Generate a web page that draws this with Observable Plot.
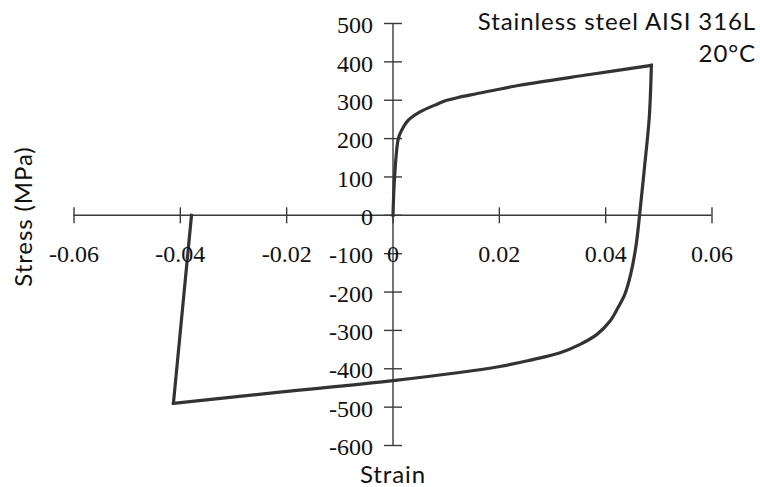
<!DOCTYPE html>
<html>
<head>
<meta charset="utf-8">
<script src="https://cdn.jsdelivr.net/npm/d3@7"></script>
<script src="https://cdn.jsdelivr.net/npm/@observablehq/plot@0.6"></script>
<style>
  html, body { margin: 0; padding: 0; background: #fff; }
  #chart { width: 760px; height: 487px; }
</style>
</head>
<body>
<div id="chart"></div>
<script>
// Hysteresis loop (strain, stress in MPa)
const strain = [0, 0.0003, 0.001, 0.0016, 0.0028, 0.005, 0.0085, 0.0097, 0.0125, 0.0157, 0.0238, 0.037, 0.0486,
                0.0482, 0.0473, 0.0464, 0.0457, 0.0447, 0.0436, 0.0423, 0.0408, 0.0383, 0.0351, 0.0313, 0.0263, 0.0201, 0.0,
                -0.0213, -0.0413, -0.0379];
const stress = [0, 100, 200, 221, 247, 269, 291, 298, 308, 317, 339, 367, 391,
                255, 125, 3, -80, -154, -206, -241, -276, -311, -337, -359, -376, -394, -431,
                -461, -490, 0];

const xTicks = [-0.06, -0.04, -0.02, 0, 0.02, 0.04, 0.06];
const xTickLabels = ["-0.06", "-0.04", "-0.02", "0", "0.02", "0.04", "0.06"];
const yTicks = [500, 400, 300, 200, 100, 0, -100, -200, -300, -400, -500, -600];
const yTickLabels = ["500", "400", "300", "200", "100", "0", "-100", "-200", "-300", "-400", "-500", "-600"];

const titleText = "Stainless steel AISI 316L\n20°C";
const xLabel = "Strain";
const yLabel = "Stress (MPa)";

// split the loop into smooth branches at its sharp corners (peak strain, minimum stress)
const peakIdx = d3.maxIndex(strain);
const cornerIdx = d3.minIndex(stress);
const loop = [];
strain.forEach((s, i) => {
  const b = i <= peakIdx ? 0 : i <= cornerIdx ? 1 : 2;
  loop.push({strain: s, stress: stress[i], branch: b});
  if (i === peakIdx || i === cornerIdx) loop.push({strain: s, stress: stress[i], branch: b + 1});
});
const xt = xTicks.map((v, i) => ({v, label: xTickLabels[i]}));
const yt = yTicks.map((v, i) => ({v, label: yTickLabels[i]}));

const vTick = {draw(ctx, size) { const r = Math.sqrt(size / Math.PI); ctx.moveTo(0, -r); ctx.lineTo(0, r); }};
const hTick = {draw(ctx, size) { const r = Math.sqrt(size / Math.PI); ctx.moveTo(-r, 0); ctx.lineTo(r, 0); }};

const serif = "Liberation Serif";
const sans = "Lato";
const axisColor = "#3a3a3a";

const chart = Plot.plot({
  width: 760,
  height: 487,
  marginLeft: 73.5,
  marginRight: 48.5,
  marginTop: 23,
  marginBottom: 42,
  x: {domain: [-0.06, 0.06], axis: null},
  y: {domain: [-600, 500], axis: null},
  style: {background: "#fff", fontFamily: serif, fontSize: "24px", color: "#111"},
  marks: [
    Plot.ruleY([0], {x1: xTicks[0], x2: xTicks[xTicks.length - 1], stroke: axisColor, strokeWidth: 1.4}),
    Plot.ruleX([0], {y1: yTicks[yTicks.length - 1], y2: yTicks[0], stroke: axisColor, strokeWidth: 1.4}),
    Plot.dot(xt, {x: "v", y: () => 0, symbol: vTick, r: 8, fill: "none", stroke: axisColor, strokeWidth: 1.4}),
    Plot.dot(yt, {x: () => 0, y: "v", symbol: hTick, r: 9, fill: "none", stroke: axisColor, strokeWidth: 1.4}),
    Plot.line(loop, {x: "strain", y: "stress", z: "branch", curve: "catmull-rom", stroke: "#333", strokeWidth: 3.2, strokeLinejoin: "miter", strokeLinecap: "square"}),
    Plot.text(xt, {x: "v", y: () => 0, text: "label", dy: 39, fill: "#111", fontFamily: serif, fontSize: 24}),
    Plot.text(yt, {x: () => 0, y: "v", text: "label", textAnchor: "end", dx: -20, dy: 2, fill: "#111", fontFamily: serif, fontSize: 24}),
    Plot.text([titleText], {frameAnchor: "top-right", text: d => d, textAnchor: "end", lineAnchor: "top", lineHeight: 1.32, dx: 44, dy: -16, fill: "#111", fontFamily: sans, fontSize: 24}),
    Plot.text([xLabel], {frameAnchor: "bottom", text: d => d, textAnchor: "middle", lineAnchor: "bottom", dy: 37, fill: "#111", fontFamily: sans, fontSize: 24}),
    Plot.text([yLabel], {frameAnchor: "left", text: d => d, rotate: -90, textAnchor: "middle", lineAnchor: "top", dx: -59, dy: -18, fill: "#111", fontFamily: sans, fontSize: 24})
  ]
});
// slightly wider tracking for the sans labels, as in the reference
d3.select(chart).selectAll("g[font-family='Lato']").attr("letter-spacing", "0.9px");
document.getElementById("chart").appendChild(chart);
</script>
</body>
</html>
